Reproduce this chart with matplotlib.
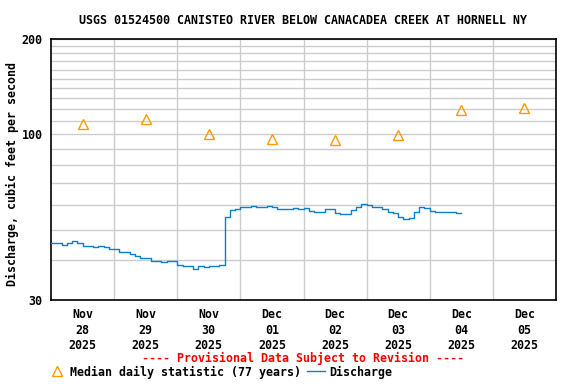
import matplotlib
matplotlib.use('Agg')
import matplotlib.pyplot as plt
from matplotlib.lines import Line2D
import numpy as np

# x axis in days since Nov 28 2025 00:00
day_labels = ['Nov\n28\n2025', 'Nov\n29\n2025', 'Nov\n30\n2025', 'Dec\n01\n2025',
              'Dec\n02\n2025', 'Dec\n03\n2025', 'Dec\n04\n2025', 'Dec\n05\n2025']

# median daily statistic, plotted at noon of each day
median_days = [0.5, 1.5, 2.5, 3.5, 4.5, 5.5, 6.5, 7.5]
median_cfs = [108.2, 111.5, 100.6, 96.6, 96.3, 99.4, 119.8, 120.8]

# discharge, every 2 hours from Nov 28 00:00
discharge_cfs = [45.3, 45.3, 44.6, 45.3, 46.0, 45.3, 44.4, 44.4, 44.0, 44.4,
                 44.0, 43.4, 43.4, 42.6, 42.6, 41.9, 41.3, 40.6, 40.6, 39.9,
                 39.9, 39.6, 39.9, 39.9, 38.75, 38.5, 38.5, 37.5, 38.5, 38.2,
                 38.5, 38.5, 38.8, 55.0, 57.8, 58.3, 58.9, 58.9, 59.4, 58.9,
                 58.9, 59.2, 58.9, 58.0, 58.0, 58.0, 58.4, 58.0, 58.4, 57.4,
                 56.9, 56.9, 58.0, 58.0, 56.5, 56.0, 56.0, 57.8, 59.1, 60.1,
                 60.0, 59.1, 59.1, 58.0, 56.9, 56.3, 55.0, 54.0, 54.3, 57.0,
                 59.0, 58.6, 57.4, 56.9, 56.9, 56.9, 56.9, 56.6, 56.5]
discharge_days = np.arange(len(discharge_cfs)) * 2 / 24.0

font = {'family': 'DejaVu Sans Mono', 'weight': 'bold'}
fs = 8.4

fig = plt.figure(figsize=(5.76, 3.84), dpi=100)
ax = fig.add_axes([51/576, 84/384, 505/576, 261/384])

ax.plot(discharge_days, discharge_cfs, color='#0a7fcf', lw=1.0,
        drawstyle='steps-post', zorder=3)
ax.plot(median_days, median_cfs, linestyle='none', marker='^', ms=7.5,
        mfc='none', mec='#ff9900', mew=1.0, zorder=4)

ax.set_yscale('log')
ax.set_ylim(30, 200)
ax.set_xlim(0, 8)
ax.set_yticks([30, 100, 200])
ax.set_yticklabels(['30', '100', '200'], fontdict=dict(font, size=fs))
ax.set_yticks([40, 50, 60, 70, 80, 90, 110, 120, 130, 140, 150, 160, 170, 180, 190], minor=True)
ax.yaxis.set_minor_formatter(plt.NullFormatter())
ax.set_xticks(median_days)
ax.set_xticklabels(day_labels, fontdict=dict(font, size=fs), linespacing=1.25)
ax.set_xticks(range(1, 8), minor=True)
ax.tick_params(which='both', length=0, pad=6)
ax.grid(which='both', color='#cccccc', lw=1.0)
ax.grid(which='major', axis='x', visible=False)
ax.set_axisbelow(True)
for s in ax.spines.values():
    s.set_linewidth(1.2)

fig.text(12/576, 1 - 174/384, 'Discharge, cubic feet per second', rotation=90,
         ha='center', va='center', size=fs, **font)
fig.text(303/576, 1 - 20/384, 'USGS 01524500 CANISTEO RIVER BELOW CANACADEA CREEK AT HORNELL NY',
         ha='center', va='center', size=fs, **font)
fig.text(303/576, 1 - 358/384, '---- Provisional Data Subject to Revision ----',
         ha='center', va='center', size=fs, color='red', **font)

handles = [Line2D([], [], linestyle='none', marker='^', ms=7.5, mfc='none', mec='#ff9900', mew=1.0),
           Line2D([], [], color='#0a7fcf', lw=1.0)]
fig.legend(handles, ['Median daily statistic (77 years)', 'Discharge'],
           loc='center left', bbox_to_anchor=(48/576, 1 - 372/384), ncol=2,
           frameon=False, prop=dict(font, size=fs), handlelength=1.5,
           handletextpad=0.4, columnspacing=0.5, borderaxespad=0, borderpad=0)

fig.savefig('out.png', dpi=100)
